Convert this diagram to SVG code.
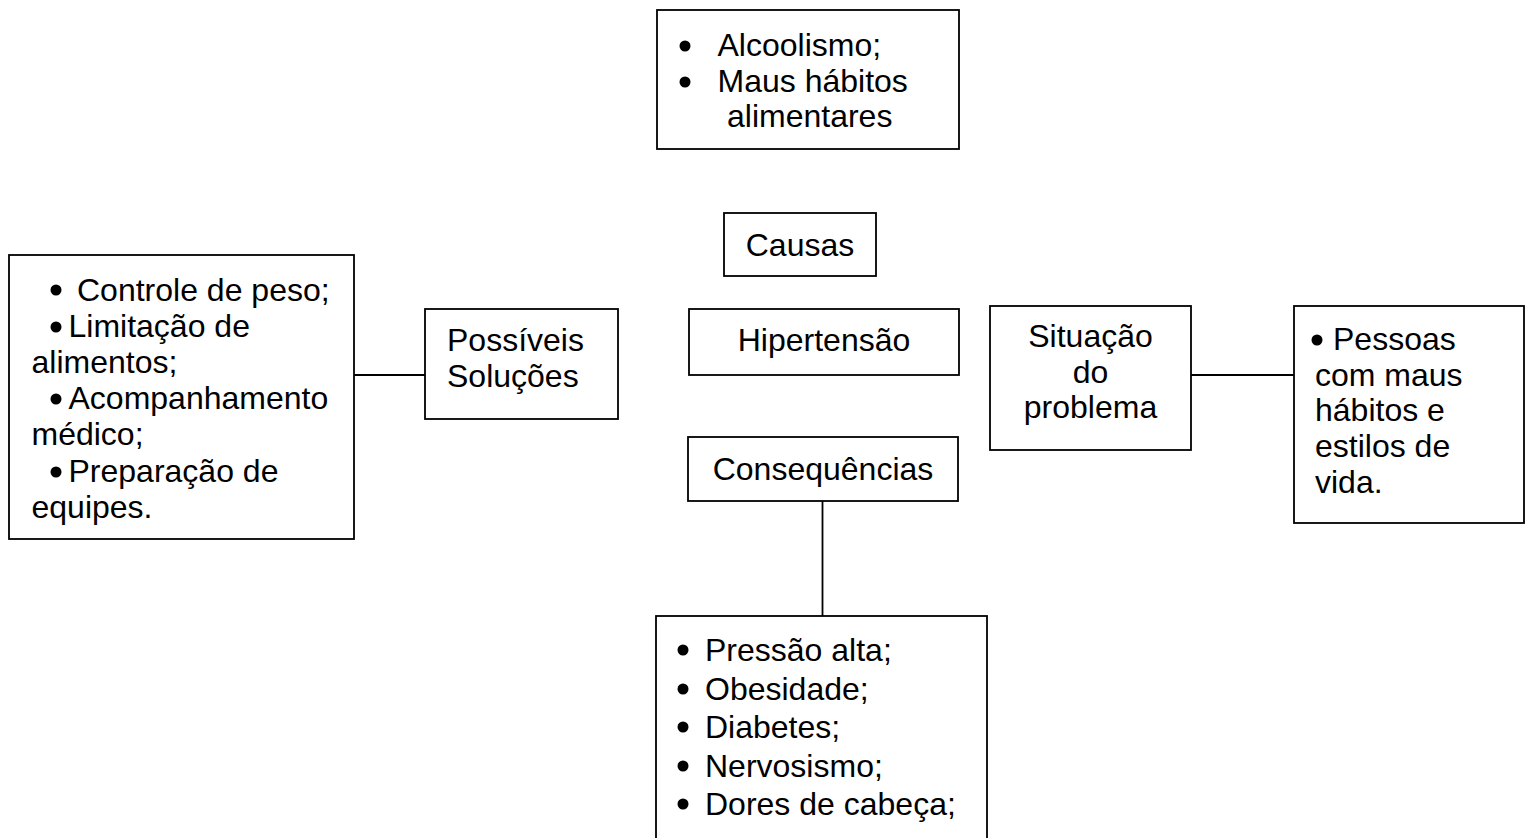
<svg xmlns="http://www.w3.org/2000/svg" width="1527" height="838" viewBox="0 0 1527 838">
<style>
.box{fill:#fff;stroke:#000;stroke-width:1.8}
.t{font-family:"Liberation Sans",Arial,sans-serif;font-size:32px;fill:#000}
.c{text-anchor:middle}
.ln{stroke:#000;stroke-width:1.8;fill:none}
.b{fill:#000}
</style>
<rect width="1527" height="838" fill="#fff"/>
<g id="connectors">
<line class="ln" x1="354" y1="375" x2="425" y2="375"/>
<line class="ln" x1="1191" y1="375" x2="1294" y2="375"/>
<line class="ln" x1="822.5" y1="501" x2="822.5" y2="616"/>
</g>
<g id="causas-list">
<rect class="box" x="657" y="10" width="302" height="139"/>
<circle class="b" cx="685" cy="46" r="5.5"/>
<circle class="b" cx="685" cy="82" r="5.5"/>
<text class="t" x="717.5" y="56">Alcoolismo;</text>
<text class="t" x="717.5" y="92">Maus hábitos</text>
<text class="t" x="727" y="127">alimentares</text>
</g>
<g id="causas">
<rect class="box" x="724" y="213" width="152" height="63"/>
<text class="t c" x="800" y="256">Causas</text>
</g>
<g id="hipertensao">
<rect class="box" x="689" y="309" width="270" height="66"/>
<text class="t c" x="824" y="351">Hipertensão</text>
</g>
<g id="consequencias">
<rect class="box" x="688" y="437" width="270" height="64"/>
<text class="t c" x="823" y="480">Consequências</text>
</g>
<g id="consequencias-list">
<rect class="box" x="656" y="616" width="331" height="240"/>
<circle class="b" cx="683" cy="650" r="5.5"/>
<circle class="b" cx="683" cy="689" r="5.5"/>
<circle class="b" cx="683" cy="727" r="5.5"/>
<circle class="b" cx="683" cy="766" r="5.5"/>
<circle class="b" cx="683" cy="804" r="5.5"/>
<text class="t" x="705" y="661">Pressão alta;</text>
<text class="t" x="705" y="700">Obesidade;</text>
<text class="t" x="705" y="738">Diabetes;</text>
<text class="t" x="705" y="777">Nervosismo;</text>
<text class="t" x="705" y="815">Dores de cabeça;</text>
</g>
<g id="solucoes-list">
<rect class="box" x="9" y="255" width="345" height="284"/>
<circle class="b" cx="56" cy="290" r="5.5"/>
<circle class="b" cx="56" cy="327" r="5.5"/>
<circle class="b" cx="56" cy="399" r="5.5"/>
<circle class="b" cx="56" cy="472" r="5.5"/>
<text class="t" x="77" y="301">Controle de peso;</text>
<text class="t" x="68.5" y="337">Limitação de</text>
<text class="t" x="31.5" y="373">alimentos;</text>
<text class="t" x="68.5" y="409">Acompanhamento</text>
<text class="t" x="31.5" y="445">médico;</text>
<text class="t" x="68.5" y="482">Preparação de</text>
<text class="t" x="31.5" y="518">equipes.</text>
</g>
<g id="solucoes">
<rect class="box" x="425" y="309" width="193" height="110"/>
<text class="t" x="447" y="351">Possíveis</text>
<text class="t" x="447" y="387">Soluções</text>
</g>
<g id="situacao">
<rect class="box" x="990" y="306" width="201" height="144"/>
<text class="t c" x="1090.5" y="347">Situação</text>
<text class="t c" x="1090.5" y="383">do</text>
<text class="t c" x="1090.5" y="418">problema</text>
</g>
<g id="situacao-list">
<rect class="box" x="1294" y="306" width="230" height="217"/>
<circle class="b" cx="1317" cy="340" r="5.5"/>
<text class="t" x="1333" y="350">Pessoas</text>
<text class="t" x="1315" y="386">com maus</text>
<text class="t" x="1315" y="421">hábitos e</text>
<text class="t" x="1315" y="457">estilos de</text>
<text class="t" x="1315" y="493">vida.</text>
</g>
</svg>
